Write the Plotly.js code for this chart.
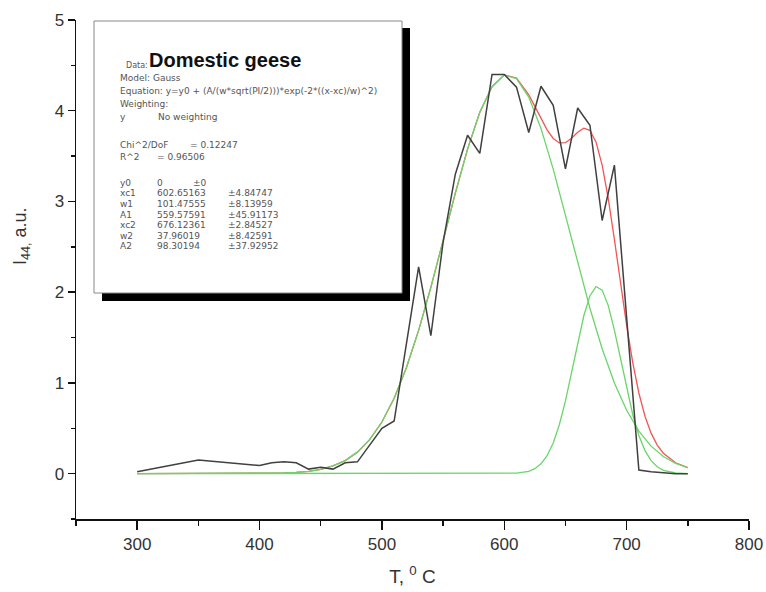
<!DOCTYPE html>
<html>
<head>
<meta charset="utf-8">
<script src="https://cdn.plot.ly/plotly-3.0.1.min.js"></script>
<style>html,body{margin:0;padding:0;background:#fff;}#chart{width:766px;height:592px;}</style>
</head>
<body>
<div id="chart"></div>
<script>
// Measured data (black line)
const tempData = [300,350,400,410,420,430,440,450,460,470,480,490,500,510,530,540,550,560,570,580,590,600,610,620,630,640,650,660,670,680,690,700,710,720,730,740,750];
const intensity = [0.02,0.15,0.09,0.12,0.13,0.12,0.05,0.07,0.05,0.12,0.13,0.32,0.50,0.58,2.28,1.52,2.55,3.30,3.73,3.53,4.40,4.40,4.26,3.76,4.27,4.06,3.36,4.03,3.84,2.79,3.40,1.72,0.04,0.02,0.01,0.00,0.00];

// Broad Gaussian peak (green)
const tempPeak1 = [300,310,320,330,340,350,360,370,380,390,400,410,420,430,440,450,460,470,480,490,500,510,520,530,540,550,560,570,580,590,600,610,620,630,640,650,660,670,680,690,700,710,720,730,740,750];
const peak1 = [0,0,0,0,0,0,0.0001,0.0001,0.0003,0.0007,0.0015,0.0033,0.0068,0.0135,0.026,0.048,0.085,0.144,0.237,0.374,0.569,0.831,1.167,1.579,2.053,2.568,3.091,3.577,3.983,4.265,4.394,4.354,4.150,3.805,3.356,2.847,2.323,1.823,1.377,1.000,0.698,0.469,0.303,0.189,0.113,0.065];

// Narrow Gaussian peak (green)
const tempPeak2 = [300,400,500,550,580,590,600,610,620,625,630,635,640,645,650,655,660,665,670,675,680,685,690,695,700,705,710,715,720,725,730,740,750];
const peak2 = [0,0,0,0,0,0.0001,0.0007,0.005,0.026,0.055,0.108,0.198,0.338,0.539,0.801,1.112,1.440,1.740,1.961,2.062,2.023,1.852,1.581,1.260,0.936,0.649,0.420,0.254,0.143,0.075,0.037,0.007,0.001];

// Cumulative fit (red)
const tempFit = [300,310,320,330,340,350,360,370,380,390,400,410,420,430,440,450,460,470,480,490,500,510,520,530,540,550,560,570,580,590,600,610,620,625,630,635,640,645,650,655,660,665,670,675,680,685,690,695,700,705,710,715,720,725,730,740,750];
const fitSum = [0,0,0,0,0,0,0.0001,0.0001,0.0003,0.0007,0.0015,0.0033,0.0068,0.0135,0.026,0.048,0.085,0.144,0.237,0.374,0.569,0.831,1.167,1.579,2.053,2.568,3.091,3.577,3.983,4.265,4.395,4.359,4.176,4.048,3.913,3.789,3.694,3.645,3.648,3.696,3.763,3.808,3.784,3.654,3.400,3.031,2.581,2.099,1.634,1.224,0.889,0.633,0.446,0.315,0.225,0.120,0.066];

// Fit report text
const reportLabels = ["y0","xc1","w1","A1","xc2","w2","A2"];
const reportValues = ["0","602.65163","101.47555","559.57591","676.12361","37.96019","98.30194"];
const reportErrors = ["\u00b10","\u00b14.84747","\u00b18.13959","\u00b145.91173","\u00b12.84527","\u00b18.42591","\u00b137.92952"];

const FONT = "Liberation Sans, Arial, sans-serif";
const SMALLFONT = "DejaVu Sans, Liberation Sans, sans-serif";
// pixel -> paper helpers (plot area: x 76..749, y 20..519)
const PL = 76, PR = 749, PT = 20, PB = 519;
const px = v => (v - PL) / (PR - PL);
const py = v => (PB - v) / (PB - PT);

const traces = [
  {x: tempFit, y: fitSum, mode: 'lines', line: {color: '#f25555', width: 1.3}, hoverinfo: 'skip'},
  {x: tempPeak1, y: peak1, mode: 'lines', line: {color: '#6ad66a', width: 1.3}, hoverinfo: 'skip'},
  {x: tempPeak2, y: peak2, mode: 'lines', line: {color: '#6ad66a', width: 1.3}, hoverinfo: 'skip'},
  {x: tempData, y: intensity, mode: 'lines', line: {color: '#404040', width: 1.5}, hoverinfo: 'skip'}
];

const small = {family: SMALLFONT, size: 9, color: '#555'};
const ann = [];
function addText(text, x, y, font) {
  ann.push({text: text, xref: 'paper', yref: 'paper', x: px(x), y: py(y), xanchor: 'left', yanchor: 'middle', showarrow: false, font: font || small});
}
addText('Data:', 124, 65, {family: SMALLFONT, size: 8, color: '#555'});
addText('<b>Domestic geese</b>', 147, 60, {family: FONT, size: 20, color: '#111'});
addText('Model: Gauss', 118, 78);
addText('Equation: y=y0 + (A/(w*sqrt(PI/2)))*exp(-2*((x-xc)/w)^2)', 118, 91);
addText('Weighting:', 118, 104);
addText('y', 118, 117);
addText('No weighting', 156, 117);
addText('Chi^2/DoF', 118, 145);
addText('= 0.12247', 188, 145);
addText('R^2', 118, 157);
addText('= 0.96506', 155, 157);
const rowY = [183,193.5,204,214.5,225,235.5,246];
const errX = [191,226,226,226,226,226,226];
for (let i = 0; i < reportLabels.length; i++) {
  addText(reportLabels[i], 118, rowY[i]);
  addText(reportValues[i], 155, rowY[i]);
  addText(reportErrors[i], errX[i], rowY[i]);
}
// y-axis title
ann.push({text: 'I<sub>44,</sub> a.u.', xref: 'paper', yref: 'paper', x: px(21), y: py(236), xanchor: 'center', yanchor: 'middle', textangle: -90, showarrow: false, font: {family: FONT, size: 18, color: '#333'}});

const shapes = [
  {type: 'rect', xref: 'paper', yref: 'paper', x0: px(102), x1: px(410), y0: py(301), y1: py(28), fillcolor: '#000', line: {width: 0}, layer: 'above'},
  {type: 'rect', xref: 'paper', yref: 'paper', x0: px(94), x1: px(402), y0: py(293), y1: py(21), fillcolor: '#fff', line: {color: '#888', width: 1}, layer: 'above'}
];

const layout = {
  width: 766, height: 592,
  margin: {l: 76, r: 17, t: 20, b: 73, pad: 0},
  paper_bgcolor: '#fff', plot_bgcolor: '#fff',
  showlegend: false,
  font: {family: FONT, color: '#333'},
  xaxis: {
    range: [250, 800], tick0: 0, dtick: 100, showgrid: false, zeroline: false,
    showline: true, linecolor: '#111', linewidth: 1.5,
    ticks: 'outside', ticklen: 9, tickwidth: 1.5, tickcolor: '#111',
    minor: {ticks: 'outside', dtick: 50, tick0: 0, ticklen: 5, tickwidth: 1.5, tickcolor: '#111', showgrid: false},
    tickfont: {family: FONT, size: 17, color: '#333'},
    title: {text: 'T, <sup>0</sup> C', font: {family: FONT, size: 19, color: '#333'}, standoff: 17}
  },
  yaxis: {
    range: [-0.5, 5], tick0: 0, dtick: 1, showgrid: false, zeroline: false,
    showline: true, linecolor: '#111', linewidth: 1.5,
    ticks: 'outside', ticklen: 7, tickwidth: 1.5, tickcolor: '#111',
    minor: {ticks: 'outside', dtick: 0.5, tick0: 0, ticklen: 4, tickwidth: 1.5, tickcolor: '#111', showgrid: false},
    tickfont: {family: FONT, size: 17, color: '#333'}
  },
  shapes: shapes,
  annotations: ann
};

Plotly.newPlot('chart', traces, layout, {staticPlot: true, displayModeBar: false});
</script>
</body>
</html>
